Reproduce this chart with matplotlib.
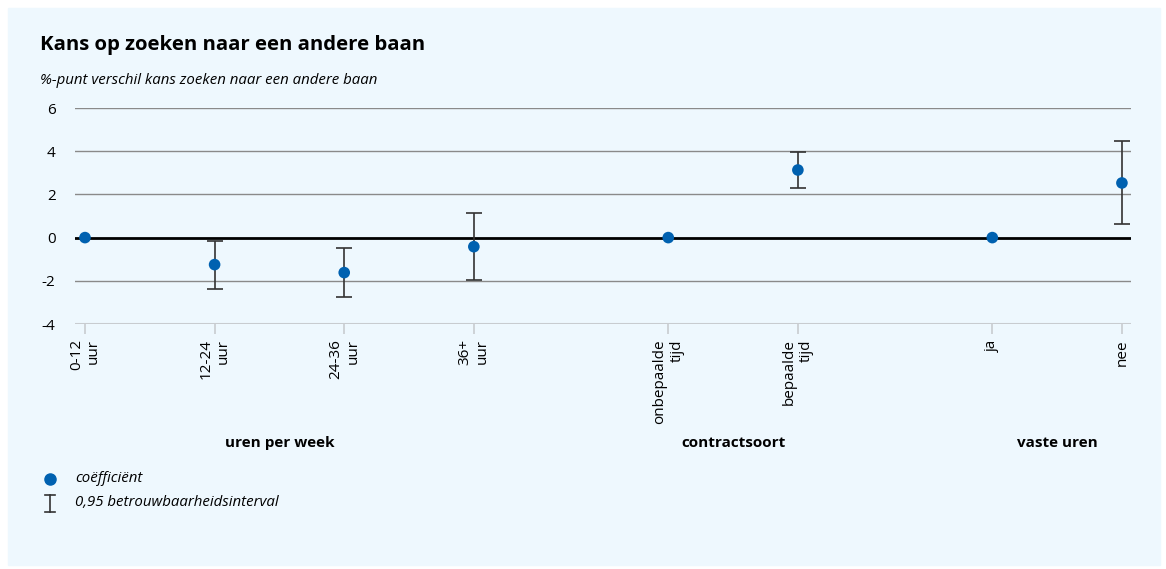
import matplotlib.pyplot as plt
from matplotlib.patches import Rectangle
from matplotlib.lines import Line2D

plt.rcParams['font.family'] = ['Open Sans', 'DejaVu Sans']

# data
labels = ['0-12\nuur', '12-24\nuur', '24-36\nuur', '36+\nuur',
          'onbepaalde\ntijd', 'bepaalde\ntijd', 'ja', 'nee']
pos = [0, 1, 2, 3, 4.5, 5.5, 7, 8]
coef = [0, -1.25, -1.62, -0.42, 0, 3.13, 0, 2.53]
lower = [None, -2.36, -2.75, -1.97, None, 2.30, None, 0.62]
upper = [None, -0.14, -0.50, 1.16, None, 3.97, None, 4.48]
groups = ['uren per week', 'contractsoort', 'vaste uren']
group_pos = [1.5, 5.0, 7.5]

blue = '#0061b0'
bg = '#eef8fe'

fig = plt.figure(figsize=(11.66, 5.69), dpi=100)
fig.patch.set_facecolor('white')
fig.patches.append(Rectangle((8/1166, 4/569), 1152/1166, 557/569,
                             transform=fig.transFigure, color=bg, zorder=-10))

ax = fig.add_axes([75/1166, 1 - 324/569, (1131-75)/1166, (324-108)/569])
ax.patch.set_alpha(0)

ax.set_ylim(-4, 6)
ax.set_xlim(-0.077, 8.07)
ax.set_yticks([-4, -2, 0, 2, 4, 6])
ax.set_yticklabels(['-4', '-2', '0', '2', '4', '6'], fontsize=11)
for y in [-2, 2, 4, 6]:
    ax.axhline(y, color='#8a8a8a', lw=1, zorder=1)
ax.axhline(0, color='black', lw=2, zorder=2)
ax.axhline(-4, color='#c8ccd0', lw=1.5, zorder=1)

# foutbalken
for x, c, lo, hi in zip(pos, coef, lower, upper):
    if lo is not None:
        ax.errorbar([x], [c], yerr=[[c - lo], [hi - c]], fmt='none',
                    ecolor='#333333', elinewidth=1.2, capsize=6, capthick=1.2, zorder=3)
ax.scatter(pos, coef, s=70, color=blue, zorder=4, edgecolors='none')

for s in ax.spines.values():
    s.set_visible(False)
ax.set_xticks(pos)
ax.set_xticklabels(labels, rotation=90, fontsize=11, multialignment='right', va='top')
ax.tick_params(axis='x', length=7, color='#c8ccd0', width=1.2, pad=4)
ax.tick_params(axis='y', length=0, pad=14)

for g, gx in zip(groups, group_pos):
    ax.text(gx, -(443-324)/216, g, transform=ax.get_xaxis_transform(), fontsize=11,
            fontweight='bold', ha='center', va='center')

fig.text(40/1166, 1 - 45/569, 'Kans op zoeken naar een andere baan', fontsize=14.7,
         fontweight='bold', va='center')
fig.text(40/1166, 1 - 80/569, '%-punt verschil kans zoeken naar een andere baan',
         fontsize=10.8, style='italic', va='center')

# legenda
fig.lines.append(Line2D([50/1166], [1 - 479/569], marker='o', color=blue, markersize=8,
                        transform=fig.transFigure))
fig.lines.append(Line2D([50/1166, 50/1166], [1 - 495/569, 1 - 512/569], color='#333333',
                        lw=1.2, transform=fig.transFigure))
for yy in [495, 512]:
    fig.lines.append(Line2D([45/1166, 55/1166], [1 - yy/569, 1 - yy/569], color='#333333',
                            lw=1.2, transform=fig.transFigure))
fig.text(75/1166, 1 - 479/569, 'coëfficiënt', fontsize=10.8, style='italic', va='center')
fig.text(75/1166, 1 - 503/569, '0,95 betrouwbaarheidsinterval', fontsize=10.8,
         style='italic', va='center')

plt.savefig('out.png', dpi=100, facecolor=fig.get_facecolor())
